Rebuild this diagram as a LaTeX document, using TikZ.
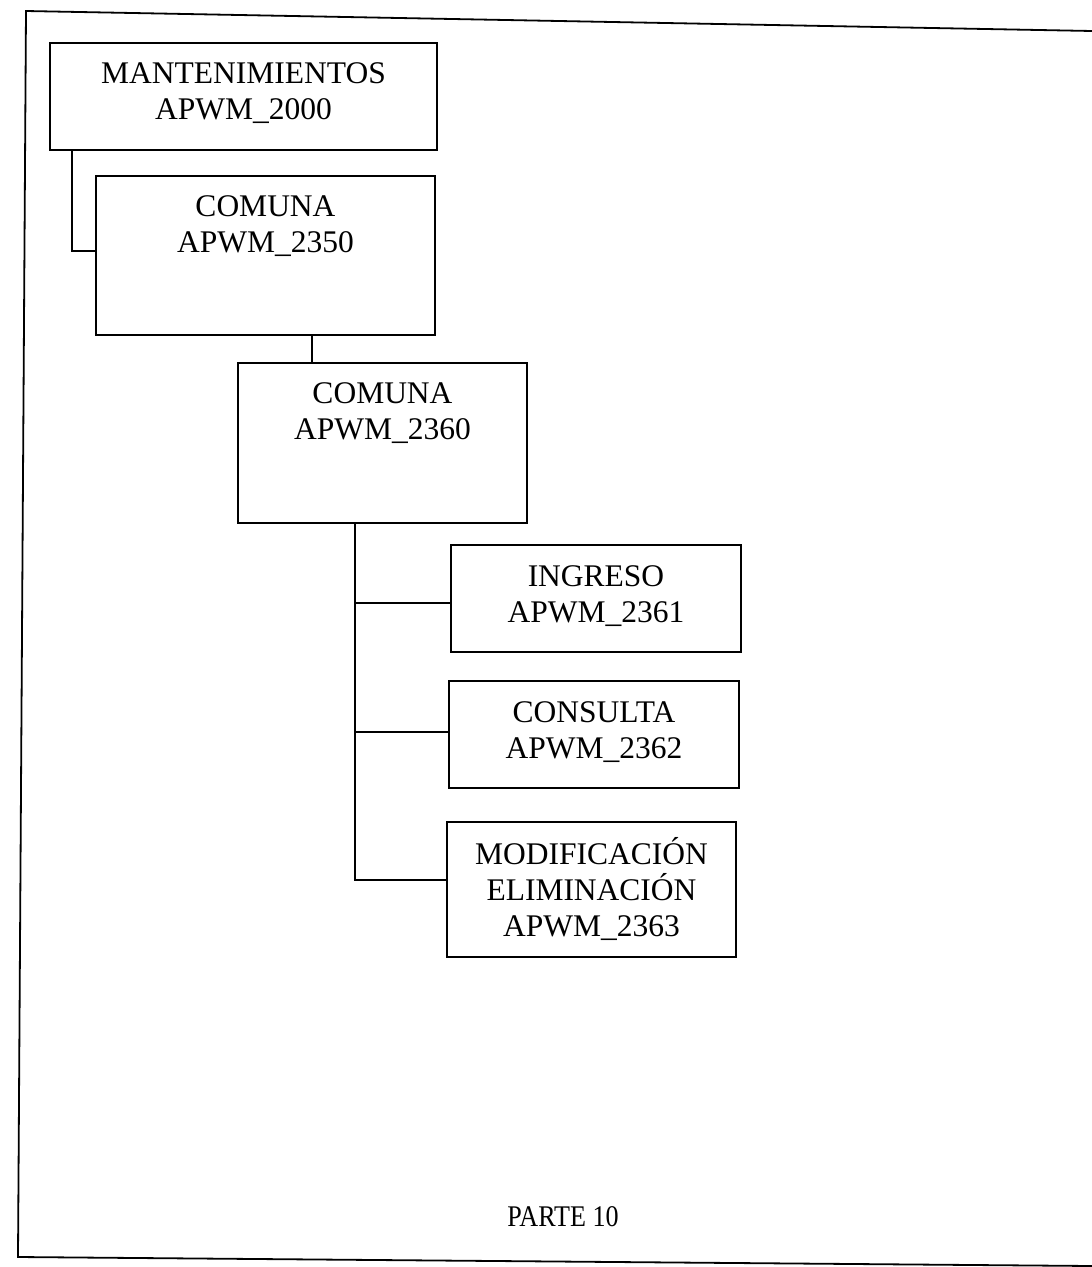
\documentclass[tikz,border=0pt]{standalone}
\usepackage{fontspec}
\setmainfont{Liberation Serif}
\begin{document}
\begin{tikzpicture}[x=1pt,y=-1pt,
  box/.style={draw, line width=1.8pt, rectangle, inner sep=0pt},
  lbl/.style={anchor=base, align=center, inner sep=0pt, font=\fontsize{31.5}{36}\selectfont},
  conn/.style={line width=1.8pt},
  frame/.style={line width=1.8pt}]
\useasboundingbox (0,0) rectangle (1092,1267);
% outer frame (slightly skewed scan)
\draw[frame] (1092,31) -- (26,11) -- (18,1257) -- (1092,1266);
% boxes
\node[box, minimum width=387pt, minimum height=107pt] (b1) at (243.5,96.5) {};
\node[box, minimum width=339pt, minimum height=159pt] (b2) at (265.5,255.5) {};
\node[box, minimum width=289pt, minimum height=160pt] (b3) at (382.5,443) {};
\node[box, minimum width=290pt, minimum height=107pt] (b4) at (596,598.5) {};
\node[box, minimum width=290pt, minimum height=107pt] (b5) at (594,734.5) {};
\node[box, minimum width=289pt, minimum height=135pt] (b6) at (591.5,889.5) {};
% labels (base anchor = baseline of last line)
\node[lbl] (t1) at ([yshift=-77pt]b1.north) {MANTENIMIENTOS\\APWM\_2000};
\node[lbl] (t2) at ([yshift=-77pt]b2.north) {COMUNA\\APWM\_2350};
\node[lbl] (t3) at ([yshift=-77pt]b3.north) {COMUNA\\APWM\_2360};
\node[lbl] (t4) at ([yshift=-78pt]b4.north) {INGRESO\\APWM\_2361};
\node[lbl] (t5) at ([yshift=-78pt]b5.north) {CONSULTA\\APWM\_2362};
\node[lbl] (t6) at ([yshift=-115pt]b6.north) {MODIFICACIÓN\\ELIMINACIÓN\\APWM\_2363};
% connectors
\draw[conn] ([xshift=23pt]b1.south west) |- ([yshift=4.5pt]b2.west);
\coordinate (s2) at ([xshift=46.5pt]b2.south);
\draw[conn] (s2) -- (s2 |- b3.north);
\coordinate (trunk) at ([xshift=-27.5pt]b3.south);
\draw[conn] (trunk) |- ([yshift=9.5pt]b6.west);
\draw[conn] ([yshift=-4.5pt]b4.west) -- ([yshift=-4.5pt]b4.west -| trunk);
\draw[conn] ([yshift=2.5pt]b5.west) -- ([yshift=2.5pt]b5.west -| trunk);
% footer
\node[font=\fontsize{30}{36}\selectfont, inner sep=0pt] (parte) at (563,1217) {\scalebox{0.87}[1]{PARTE 10}};
\end{tikzpicture}
\end{document}
